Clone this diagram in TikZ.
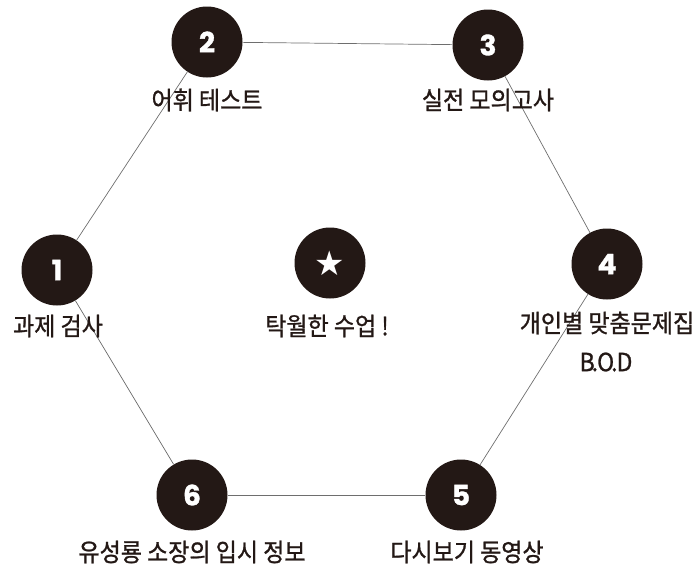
\documentclass[tikz,border=0pt]{standalone}
\usepackage{fontspec}
\newfontfamily\kor[FakeStretch=0.92,FakeBold=1]{Noto Sans CJK KR}
\newfontfamily\numf[FakeBold=1.2]{Poppins}
\newfontfamily\symf{DejaVu Sans}
\definecolor{ink}{HTML}{231815}
\definecolor{linegray}{HTML}{6E6E6E}
\begin{document}
\begin{tikzpicture}[x=1pt,y=-1pt,
  dot/.style={circle,fill=ink,minimum size=71pt,inner sep=0pt,text=white,font=\numf\bfseries\fontsize{28}{28}\selectfont},
  lbl/.style={text=ink,font=\kor\fontsize{25}{25}\selectfont,inner sep=0pt},
  link/.style={draw=linegray,line width=0.7pt}]
\useasboundingbox (0,0) rectangle (696,571);
\node[dot] (c1) at (57,270) {1};
\node[dot] (c2) at (207,42) {2};
\node[dot] (c3) at (488,45) {3};
\node[dot] (c4) at (607,264) {4};
\node[dot] (c5) at (461,495) {5};
\node[dot] (c6) at (192,495) {6};
\node[dot,font=\symf\fontsize{34}{34}\selectfont] (cs) at (330,263) {★};
\draw[link] (c1) -- (c2);
\draw[link] (c2) -- (c3);
\draw[link] (c3) -- (c4);
\draw[link] (c4) -- (c5);
\draw[link] (c5) -- (c6);
\draw[link] (c6) -- (c1);
\node[lbl] (l2) at (207,100) {어휘 테스트};
\node[lbl] (l3) at (488,100) {실전 모의고사};
\node[lbl] (l1) at (58,326) {과제 검사};
\node[lbl] (ls) at (327,326) {탁월한 수업 !};
\node[lbl] (l4) at (607,323) {개인별 맞춤문제집};
\node[lbl] (l4b) at (606,362) {B\kern-3pt.\kern-1ptO\kern-3pt.\kern-1ptD};
\node[lbl] (l6) at (192,552) {유성룡 소장의 입시 정보};
\node[lbl] (l5) at (467,552) {다시보기 동영상};
\end{tikzpicture}
\end{document}
